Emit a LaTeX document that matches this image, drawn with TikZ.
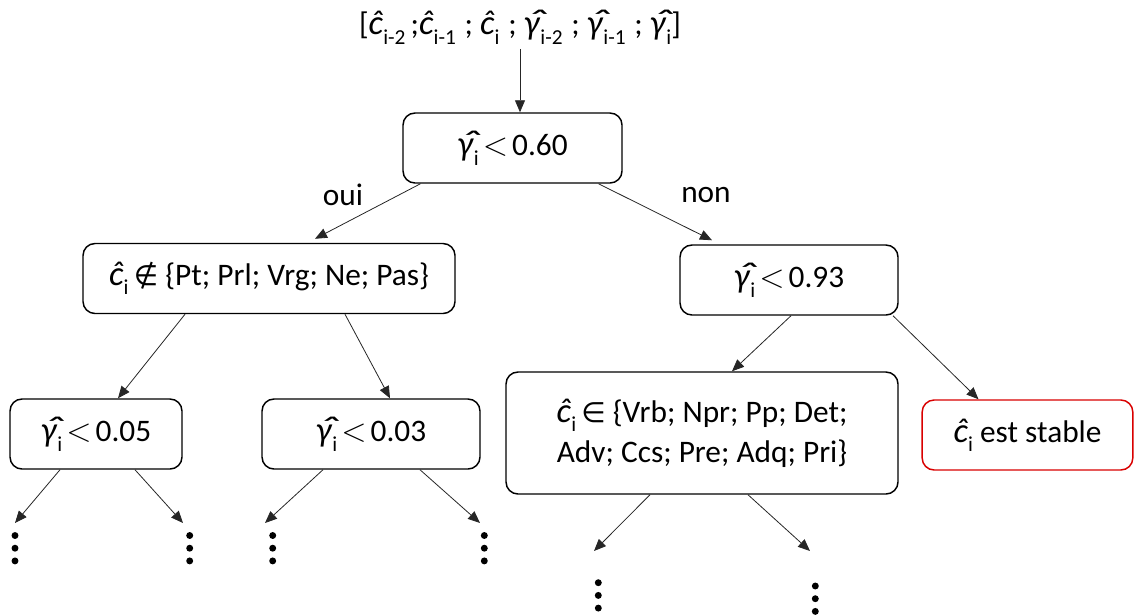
\documentclass[tikz,border=0pt]{standalone}
\usepackage{fontspec}
\setmainfont{Carlito}
\newfontfamily\symf{DejaVu Sans}
\usetikzlibrary{arrows.meta,calc}
\newcommand\ch{{\fontsize{26}{26}\selectfont\textit{ĉ}}}
\newcommand\gh{{\fontsize{26}{26}\selectfont\textit{\rlap{\hspace{0.08em}\raisebox{0.05em}{\scalebox{1.6}[1]{ˆ}}}γ}}}
\newcommand\sbs[1]{\raisebox{-0.3em}{\fontsize{16}{16}\selectfont #1}}
\newcommand\lt{\kern3pt{\fontsize{24.88}{25}\selectfont$<$}\kern3pt}
\begin{document}
\begin{tikzpicture}[x=0.75pt,y=-0.75pt,
  every node/.style={font=\fontsize{23.5}{28}\selectfont},
  box/.style={draw=black,line width=1.1pt,rounded corners=9pt,align=center,inner sep=0pt},
  redbox/.style={box,draw=red!85!black},
  arr/.style={draw=black!85,line width=0.6pt,-{Triangle[length=9pt,width=7.5pt]}},
  dotr/.style={fill=black}]
\useasboundingbox (0,0) rectangle (1135,615);
\node (top) at (520,27) {[\ch\sbs{i-2}\,;\ch\sbs{i-1}\;; \ch\sbs{i}\;; \gh\sbs{i-2}\;; \gh\sbs{i-1}\;; \gh\sbs{i}]};
\node[box,minimum width=164.25pt,minimum height=52.5pt] (b1) at (512.5,148) {\gh\sbs{i}\lt0.60};
\node (oui) at (343,195) {oui};
\node (non) at (706,195) {non};
\node[box,minimum width=279pt,minimum height=52.5pt] (l2) at (269,278.5) {\ch\sbs{i}\,{\symf\fontsize{21}{21}\selectfont ∉} \{Pt; Prl; Vrg; Ne; Pas\}};
\node[box,minimum width=163.5pt,minimum height=52.5pt] (r2) at (789,280) {\gh\sbs{i}\lt0.93};
\node[box,minimum width=129pt,minimum height=52.5pt] (a3) at (96,434) {\gh\sbs{i}\lt0.05};
\node[box,minimum width=163.5pt,minimum height=52.5pt] (b3) at (371,434) {\gh\sbs{i}\lt0.03};
\node[box,minimum width=294pt,minimum height=91.5pt] (c3) at (702,433) {\ch\sbs{i}\,{\symf\fontsize{21}{21}\selectfont ∈} \{Vrb; Npr; Pp; Det;\\[2pt]Adv; Ccs; Pre; Adq; Pri\}};
\node[redbox,minimum width=158pt,minimum height=52.5pt] (d3) at (1027.5,435) {\ch\sbs{i} est stable};
% free ends
\coordinate (a3l) at (15,523);
\coordinate (a3r) at (183,523);
\coordinate (b3l) at (265,523);
\coordinate (b3r) at (480,523);
\coordinate (c3l) at (594,551);
\coordinate (c3r) at (810,551);
% connectors
\draw[arr] (top.south) -- (b1.north -| top.south);
\draw[arr] ($(b1.south)+(-92,0)$) -- ($(l2.north)+(46,-4)$);
\draw[arr] ($(b1.south)+(86,0)$) -- ($(r2.north)+(-77,-4)$);
\draw[arr] ($(l2.south)+(-84,0)$) -- ($(a3.north)+(22,0)$);
\draw[arr] ($(l2.south)+(76,0)$) -- ($(b3.north)+(19,0)$);
\draw[arr] ($(r2.south)+(2,0)$) -- ($(c3.north)+(30,0)$);
\draw[arr] ($(r2.south)+(104,0)$) -- ($(d3.north)+(-49,0)$);
\draw[arr] ($(a3.south)+(-36,0)$) -- (a3l);
\draw[arr] ($(a3.south)+(39,0)$) -- (a3r);
\draw[arr] ($(b3.south)+(-48,0)$) -- (b3l);
\draw[arr] ($(b3.south)+(49,0)$) -- (b3r);
\draw[arr] ($(c3.south)+(-52,0)$) -- (c3l);
\draw[arr] ($(c3.south)+(46,0)$) -- (c3r);
% vertical dots
\foreach \x/\y in {15/535.5,189.7/535.5,272.7/535.5,484.3/535.5,598.3/582.7,815.3/586}
  \foreach \k in {0,1,2}
    \fill[dotr] (\x,\y+12.7*\k) circle[radius=2.6pt];
\end{tikzpicture}
\end{document}
